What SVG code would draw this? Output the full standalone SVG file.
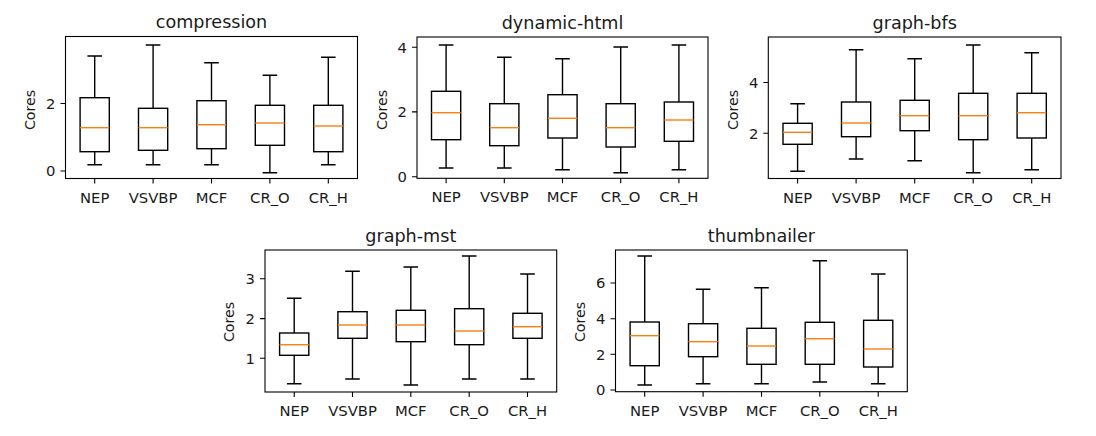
<svg xmlns="http://www.w3.org/2000/svg" width="1096" height="436" viewBox="0 0 1096 436">
<style>
text{font-family:"DejaVu Sans","Liberation Sans",sans-serif;fill:#1a1a1a}
.title{font-size:17.6px;text-anchor:middle}
.xl{font-size:14.8px;text-anchor:middle}
.yl{font-size:14.8px;text-anchor:end}
.lab{font-size:14.2px;text-anchor:middle}
.frame{fill:none;stroke:#000;stroke-width:1.1}
.tick{fill:none;stroke:#000;stroke-width:1.1}
.box{fill:none;stroke:#000;stroke-width:1.4}
.med{fill:none;stroke:#ff7f0e;stroke-width:1.4}
</style>
<rect width="1096" height="436" fill="#fff"/>

<g id="compression">
<text class="title" x="211.5" y="28">compression</text>
<rect class="frame" x="65.5" y="36.5" width="292" height="142"/>
<path class="tick" d="M60.5,171H65.5M60.5,103.5H65.5M94.7,178.5v5M153.1,178.5v5M211.5,178.5v5M269.9,178.5v5M328.3,178.5v5"/>
<text class="yl" x="55.5" y="176.3">0</text><text class="yl" x="55.5" y="108.8">2</text>
<text class="lab" transform="translate(34.5,110) rotate(-90)">Cores</text>
<text class="xl" x="94.7" y="202.6">NEP</text><text class="xl" x="153.1" y="202.6">VSVBP</text><text class="xl" x="211.5" y="202.6">MCF</text><text class="xl" x="269.9" y="202.6">CR_O</text><text class="xl" x="328.3" y="202.6">CR_H</text>
<g id="compression-NEP"><path class="box" d="M94.7,56V97.7M94.7,151.7V164.7M87.4,56H102M87.4,164.7H102"/><rect class="box" x="80.1" y="97.7" width="29.2" height="54"/><path class="med" d="M80.1,127.7H109.3"/></g>
<g id="compression-VSVBP"><path class="box" d="M153.1,45V108.3M153.1,150.3V164.7M145.8,45H160.4M145.8,164.7H160.4"/><rect class="box" x="138.5" y="108.3" width="29.2" height="42"/><path class="med" d="M138.5,127.7H167.7"/></g>
<g id="compression-MCF"><path class="box" d="M211.5,62.7V100.7M211.5,148.7V164.7M204.2,62.7H218.8M204.2,164.7H218.8"/><rect class="box" x="196.9" y="100.7" width="29.2" height="48"/><path class="med" d="M196.9,124.7H226.1"/></g>
<g id="compression-CR_O"><path class="box" d="M269.9,75.3V105.3M269.9,145.3V172.7M262.6,75.3H277.2M262.6,172.7H277.2"/><rect class="box" x="255.3" y="105.3" width="29.2" height="40"/><path class="med" d="M255.3,123H284.5"/></g>
<g id="compression-CR_H"><path class="box" d="M328.3,57.3V105.3M328.3,151.7V164.7M321,57.3H335.6M321,164.7H335.6"/><rect class="box" x="313.7" y="105.3" width="29.2" height="46.4"/><path class="med" d="M313.7,126H342.9"/></g>
</g>

<g id="dynamic-html">
<text class="title" x="562.5" y="28.6">dynamic-html</text>
<rect class="frame" x="417" y="37" width="291" height="141.3"/>
<path class="tick" d="M412,176.7H417M412,111.9H417M412,47.3H417M446.1,178.3v5M504.3,178.3v5M562.5,178.3v5M620.7,178.3v5M678.9,178.3v5"/>
<text class="yl" x="407" y="182">0</text><text class="yl" x="407" y="117.2">2</text><text class="yl" x="407" y="52.6">4</text>
<text class="lab" transform="translate(386.5,110) rotate(-90)">Cores</text>
<text class="xl" x="446.1" y="202.4">NEP</text><text class="xl" x="504.3" y="202.4">VSVBP</text><text class="xl" x="562.5" y="202.4">MCF</text><text class="xl" x="620.7" y="202.4">CR_O</text><text class="xl" x="678.9" y="202.4">CR_H</text>
<g id="dynamic-html-NEP"><path class="box" d="M446.1,45V91.3M446.1,139.7V168M438.8,45H453.4M438.8,168H453.4"/><rect class="box" x="431.5" y="91.3" width="29.2" height="48.4"/><path class="med" d="M431.5,112.7H460.7"/></g>
<g id="dynamic-html-VSVBP"><path class="box" d="M504.3,57.3V103.7M504.3,145.7V168M497,57.3H511.6M497,168H511.6"/><rect class="box" x="489.7" y="103.7" width="29.2" height="42"/><path class="med" d="M489.7,127.7H518.9"/></g>
<g id="dynamic-html-MCF"><path class="box" d="M562.5,58.7V94.7M562.5,138V169.7M555.2,58.7H569.8M555.2,169.7H569.8"/><rect class="box" x="547.9" y="94.7" width="29.2" height="43.3"/><path class="med" d="M547.9,118.3H577.1"/></g>
<g id="dynamic-html-CR_O"><path class="box" d="M620.7,47V103.7M620.7,147V172.7M613.4,47H628M613.4,172.7H628"/><rect class="box" x="606.1" y="103.7" width="29.2" height="43.3"/><path class="med" d="M606.1,127.7H635.3"/></g>
<g id="dynamic-html-CR_H"><path class="box" d="M678.9,45V102M678.9,141.3V169.7M671.6,45H686.2M671.6,169.7H686.2"/><rect class="box" x="664.3" y="102" width="29.2" height="39.3"/><path class="med" d="M664.3,120H693.5"/></g>
</g>

<g id="graph-bfs">
<text class="title" x="914.7" y="28.6">graph-bfs</text>
<rect class="frame" x="768.3" y="37" width="292.7" height="141.5"/>
<path class="tick" d="M763.3,133.3H768.3M763.3,82.5H768.3M797.6,178.5v5M856.1,178.5v5M914.7,178.5v5M973.2,178.5v5M1031.7,178.5v5"/>
<text class="yl" x="758.3" y="138.6">2</text><text class="yl" x="758.3" y="87.8">4</text>
<text class="lab" transform="translate(737.8,110) rotate(-90)">Cores</text>
<text class="xl" x="797.6" y="202.6">NEP</text><text class="xl" x="856.1" y="202.6">VSVBP</text><text class="xl" x="914.7" y="202.6">MCF</text><text class="xl" x="973.2" y="202.6">CR_O</text><text class="xl" x="1031.7" y="202.6">CR_H</text>
<g id="graph-bfs-NEP"><path class="box" d="M797.6,103.7V123.3M797.6,144.3V171.3M790.3,103.7H804.9M790.3,171.3H804.9"/><rect class="box" x="783" y="123.3" width="29.2" height="21"/><path class="med" d="M783,132.3H812.2"/></g>
<g id="graph-bfs-VSVBP"><path class="box" d="M856.1,49.7V102M856.1,136.7V159M848.8,49.7H863.4M848.8,159H863.4"/><rect class="box" x="841.5" y="102" width="29.2" height="34.7"/><path class="med" d="M841.5,123H870.7"/></g>
<g id="graph-bfs-MCF"><path class="box" d="M914.7,58.7V100.3M914.7,130.7V160.7M907.4,58.7H922M907.4,160.7H922"/><rect class="box" x="900.1" y="100.3" width="29.2" height="30.4"/><path class="med" d="M900.1,115.7H929.3"/></g>
<g id="graph-bfs-CR_O"><path class="box" d="M973.2,45V93.3M973.2,139.7V172.7M965.9,45H980.5M965.9,172.7H980.5"/><rect class="box" x="958.6" y="93.3" width="29.2" height="46.4"/><path class="med" d="M958.6,115.7H987.8"/></g>
<g id="graph-bfs-CR_H"><path class="box" d="M1031.7,52.7V93.3M1031.7,138V169.7M1024.4,52.7H1039M1024.4,169.7H1039"/><rect class="box" x="1017.1" y="93.3" width="29.2" height="44.7"/><path class="med" d="M1017.1,112.7H1046.3"/></g>
</g>

<g id="graph-mst">
<text class="title" x="410.8" y="241.6">graph-mst</text>
<rect class="frame" x="265" y="250" width="291.7" height="142"/>
<path class="tick" d="M260,358.3H265M260,318.6H265M260,278.8H265M294.2,392v5M352.5,392v5M410.8,392v5M469.2,392v5M527.5,392v5"/>
<text class="yl" x="255" y="363.6">1</text><text class="yl" x="255" y="323.9">2</text><text class="yl" x="255" y="284.1">3</text>
<text class="lab" transform="translate(234,322) rotate(-90)">Cores</text>
<text class="xl" x="294.2" y="416">NEP</text><text class="xl" x="352.5" y="416">VSVBP</text><text class="xl" x="410.8" y="416">MCF</text><text class="xl" x="469.2" y="416">CR_O</text><text class="xl" x="527.5" y="416">CR_H</text>
<g id="graph-mst-NEP"><path class="box" d="M294.2,298.3V333M294.2,355.3V383.7M286.9,298.3H301.5M286.9,383.7H301.5"/><rect class="box" x="279.6" y="333" width="29.2" height="22.3"/><path class="med" d="M279.6,344.7H308.8"/></g>
<g id="graph-mst-VSVBP"><path class="box" d="M352.5,271.3V311.7M352.5,338.3V379M345.2,271.3H359.8M345.2,379H359.8"/><rect class="box" x="337.9" y="311.7" width="29.2" height="26.6"/><path class="med" d="M337.9,325H367.1"/></g>
<g id="graph-mst-MCF"><path class="box" d="M410.8,267V310.3M410.8,341.7V385M403.5,267H418.1M403.5,385H418.1"/><rect class="box" x="396.2" y="310.3" width="29.2" height="31.4"/><path class="med" d="M396.2,325H425.4"/></g>
<g id="graph-mst-CR_O"><path class="box" d="M469.2,256V308.7M469.2,344.7V379M461.9,256H476.5M461.9,379H476.5"/><rect class="box" x="454.6" y="308.7" width="29.2" height="36"/><path class="med" d="M454.6,331H483.8"/></g>
<g id="graph-mst-CR_H"><path class="box" d="M527.5,274V313.3M527.5,338.3V379M520.2,274H534.8M520.2,379H534.8"/><rect class="box" x="512.9" y="313.3" width="29.2" height="25"/><path class="med" d="M512.9,326.7H542.1"/></g>
</g>

<g id="thumbnailer">
<text class="title" x="761.4" y="241.6">thumbnailer</text>
<rect class="frame" x="615.5" y="250" width="291.8" height="141.7"/>
<path class="tick" d="M610.5,390H615.5M610.5,354.3H615.5M610.5,318.7H615.5M610.5,283H615.5M644.7,391.7v5M703.1,391.7v5M761.5,391.7v5M819.8,391.7v5M878.2,391.7v5"/>
<text class="yl" x="605.5" y="395.3">0</text><text class="yl" x="605.5" y="359.6">2</text><text class="yl" x="605.5" y="324">4</text><text class="yl" x="605.5" y="288.3">6</text>
<text class="lab" transform="translate(584.5,322) rotate(-90)">Cores</text>
<text class="xl" x="644.7" y="415.7">NEP</text><text class="xl" x="703.1" y="415.7">VSVBP</text><text class="xl" x="761.5" y="415.7">MCF</text><text class="xl" x="819.8" y="415.7">CR_O</text><text class="xl" x="878.2" y="415.7">CR_H</text>
<g id="thumbnailer-NEP"><path class="box" d="M644.7,256V322M644.7,365.7V385M637.4,256H652M637.4,385H652"/><rect class="box" x="630.1" y="322" width="29.2" height="43.7"/><path class="med" d="M630.1,335.7H659.3"/></g>
<g id="thumbnailer-VSVBP"><path class="box" d="M703.1,289.3V323.7M703.1,356.7V383.7M695.8,289.3H710.4M695.8,383.7H710.4"/><rect class="box" x="688.5" y="323.7" width="29.2" height="33"/><path class="med" d="M688.5,341.7H717.7"/></g>
<g id="thumbnailer-MCF"><path class="box" d="M761.5,287.7V328.3M761.5,364.3V383.7M754.2,287.7H768.8M754.2,383.7H768.8"/><rect class="box" x="746.9" y="328.3" width="29.2" height="36"/><path class="med" d="M746.9,346H776.1"/></g>
<g id="thumbnailer-CR_O"><path class="box" d="M819.8,260.7V322.3M819.8,364.3V382M812.5,260.7H827.1M812.5,382H827.1"/><rect class="box" x="805.2" y="322.3" width="29.2" height="42"/><path class="med" d="M805.2,338.7H834.4"/></g>
<g id="thumbnailer-CR_H"><path class="box" d="M878.2,274V320.3M878.2,367V383.7M870.9,274H885.5M870.9,383.7H885.5"/><rect class="box" x="863.6" y="320.3" width="29.2" height="46.7"/><path class="med" d="M863.6,349H892.8"/></g>
</g>
</svg>
